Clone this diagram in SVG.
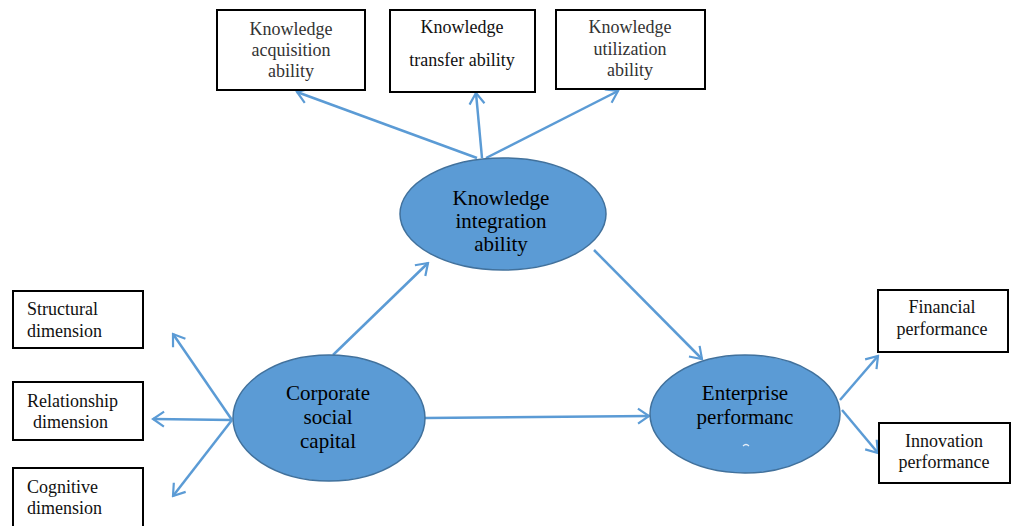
<svg xmlns="http://www.w3.org/2000/svg" width="1015" height="526" viewBox="0 0 1015 526">
  <style>
    .box { fill: #ffffff; stroke: #000000; stroke-width: 2; }
    .oval { fill: #5b9bd5; stroke: #41719c; stroke-width: 1.5; }
    .t { font-size: 18px; fill: #111111; }
    .tc { text-anchor: middle; }
    .top { fill: #333333; }
    .big { font-size: 21px; fill: #000000; text-anchor: middle; }
    .link { fill: none; stroke: #5b9bd5; stroke-width: 2.5; marker-end: url(#open); }
  </style>
  <defs>
    <marker id="open" markerUnits="userSpaceOnUse" viewBox="-13 -9 15 18" markerWidth="15" markerHeight="18" refX="0" refY="0" orient="auto">
      <path d="M-11,-7.5 L0,0 L-11,7.5" fill="none" stroke="#5b9bd5" stroke-width="2.2" stroke-linejoin="miter"/>
    </marker>
  </defs>

  <rect width="1015" height="526" fill="#ffffff"/>

  <!-- connectors -->
  <g id="connectors">
    <line class="link" x1="477" y1="158" x2="297" y2="92"/>
    <line class="link" x1="482" y1="158" x2="476" y2="93"/>
    <line class="link" x1="486" y1="158" x2="618" y2="91"/>
    <line class="link" x1="333" y1="355" x2="428" y2="263"/>
    <line class="link" x1="425" y1="418" x2="649" y2="416"/>
    <line class="link" x1="594" y1="250" x2="702" y2="359"/>
    <line class="link" x1="232" y1="420" x2="173" y2="334"/>
    <line class="link" x1="232" y1="420" x2="153" y2="419"/>
    <line class="link" x1="232" y1="420" x2="173" y2="496"/>
    <line class="link" x1="840" y1="400" x2="878" y2="356"/>
    <line class="link" x1="842" y1="410" x2="878" y2="453"/>
  </g>

  <g font-family="'Liberation Serif', 'Times New Roman', serif">
    <!-- top row -->
    <g id="acquisition">
      <rect class="box" x="217" y="10" width="148" height="80"/>
      <text class="t tc top" x="291" y="35">Knowledge</text>
      <text class="t tc top" x="291" y="56">acquisition</text>
      <text class="t tc top" x="291" y="77">ability</text>
    </g>
    <g id="transfer">
      <rect class="box" x="390" y="10" width="145" height="82"/>
      <text class="t tc" x="462" y="33">Knowledge</text>
      <text class="t tc" x="462" y="66">transfer ability</text>
    </g>
    <g id="utilization">
      <rect class="box" x="556" y="10" width="149" height="79"/>
      <text class="t tc top" x="630" y="33">Knowledge</text>
      <text class="t tc top" x="630" y="55">utilization</text>
      <text class="t tc top" x="630" y="76">ability</text>
    </g>

    <!-- central ellipses -->
    <g id="integration">
      <ellipse class="oval" cx="503" cy="214" rx="103" ry="56"/>
      <text class="big" x="501" y="205">Knowledge</text>
      <text class="big" x="501" y="228">integration</text>
      <text class="big" x="501" y="251">ability</text>
    </g>
    <g id="social-capital">
      <ellipse class="oval" cx="329" cy="418" rx="96" ry="63"/>
      <text class="big" x="328" y="400">Corporate</text>
      <text class="big" x="328" y="424">social</text>
      <text class="big" x="328" y="448">capital</text>
    </g>
    <g id="enterprise">
      <ellipse class="oval" cx="745" cy="414" rx="95" ry="59"/>
      <text class="big" x="745" y="400">Enterprise</text>
      <text class="big" x="745" y="424">performanc</text>
      <path d="M743,446 Q746,443 749,446" fill="none" stroke="#e6eef8" stroke-width="1.2"/>
    </g>

    <!-- left column -->
    <g id="structural">
      <rect class="box" x="13" y="291" width="130" height="57"/>
      <text class="t" x="27" y="315">Structural</text>
      <text class="t" x="27" y="337">dimension</text>
    </g>
    <g id="relationship">
      <rect class="box" x="13" y="382" width="130" height="58"/>
      <text class="t" x="27" y="407">Relationship</text>
      <text class="t" x="33" y="428">dimension</text>
    </g>
    <g id="cognitive">
      <rect class="box" x="13" y="468" width="130" height="70"/>
      <text class="t" x="27" y="493">Cognitive</text>
      <text class="t" x="27" y="514">dimension</text>
    </g>

    <!-- right column -->
    <g id="financial">
      <rect class="box" x="878" y="290" width="130" height="62"/>
      <text class="t tc" x="942" y="313">Financial</text>
      <text class="t tc" x="942" y="335">performance</text>
    </g>
    <g id="innovation">
      <rect class="box" x="879" y="423" width="131" height="60"/>
      <text class="t tc" x="944" y="447">Innovation</text>
      <text class="t tc" x="944" y="468">performance</text>
    </g>
  </g>
</svg>
